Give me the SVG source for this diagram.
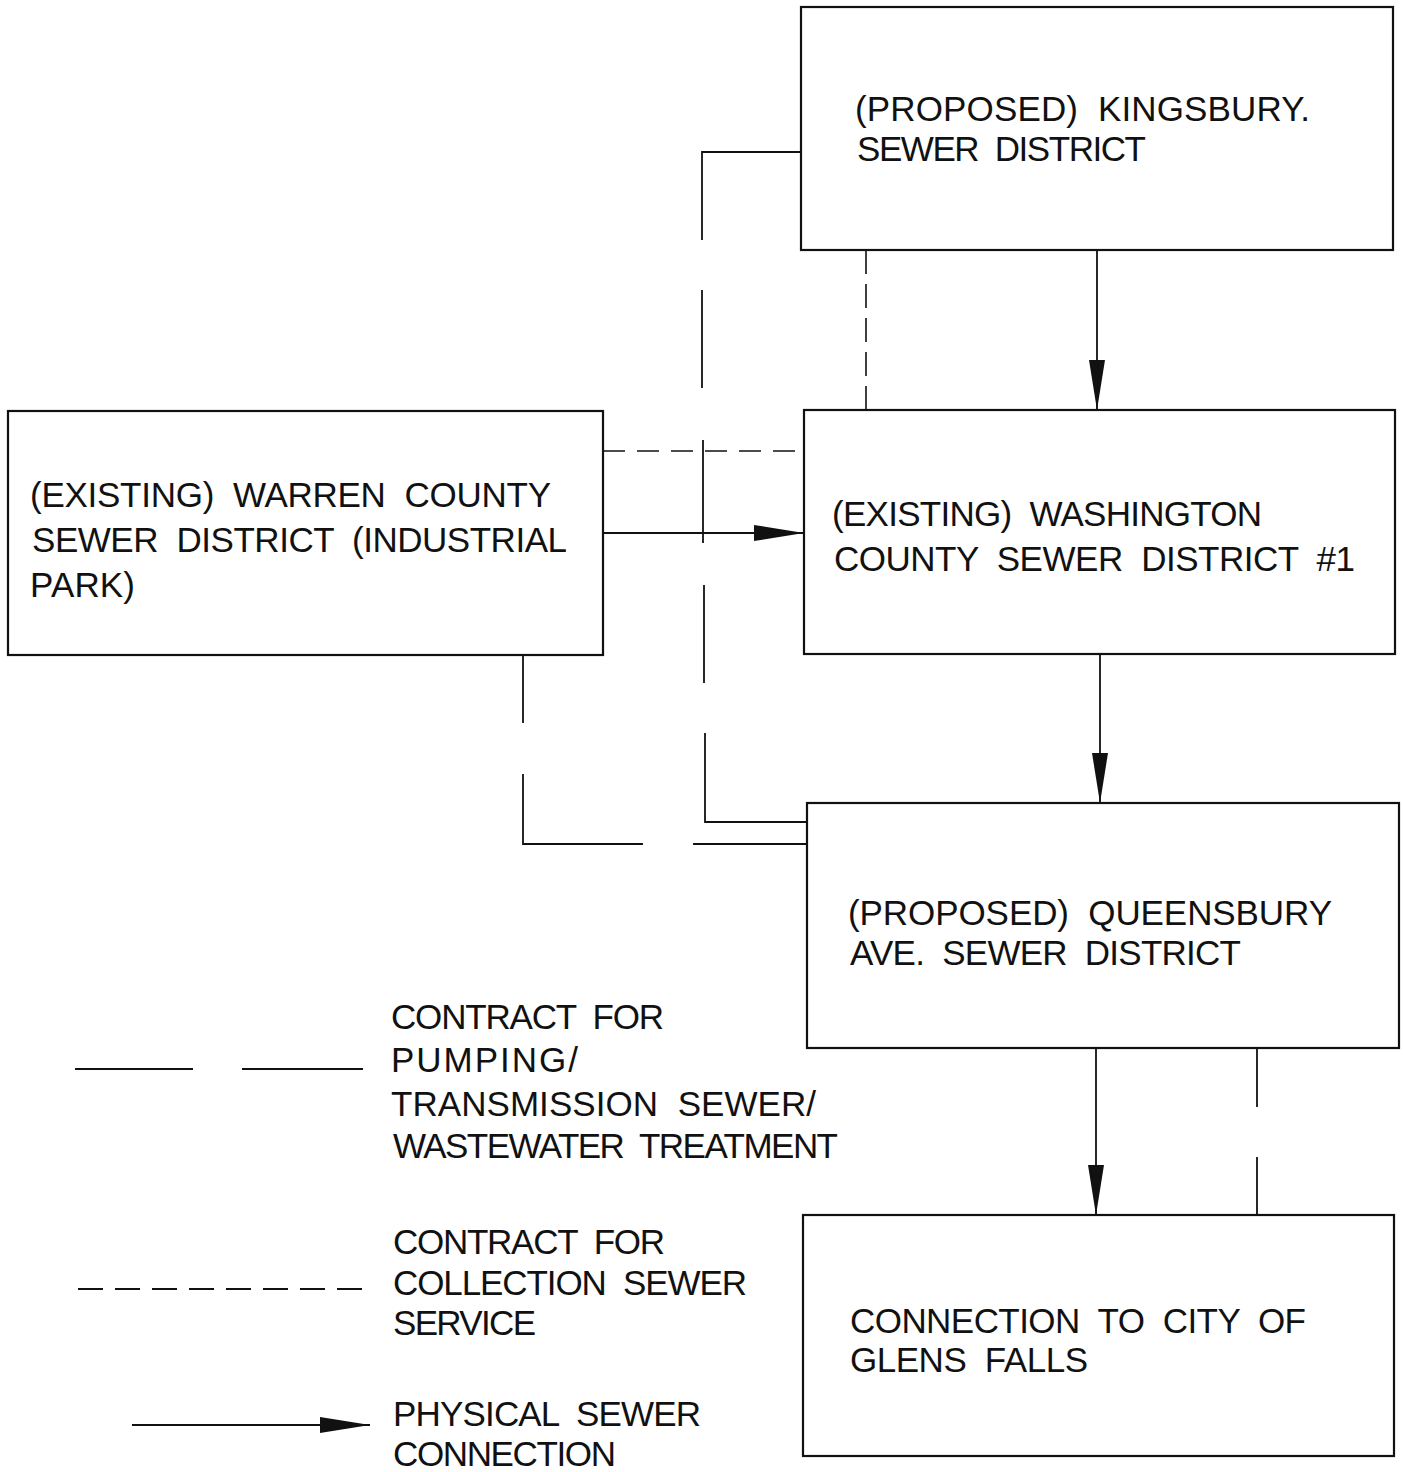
<svg xmlns="http://www.w3.org/2000/svg" width="1403" height="1472" viewBox="0 0 1403 1472">
<style>
.box{fill:none;stroke:#111;stroke-width:2.2}
.ln{fill:none;stroke:#111;stroke-width:1.8}
.sd{fill:none;stroke:#111;stroke-width:1.6;stroke-dasharray:24 10}
.sd2{fill:none;stroke:#111;stroke-width:1.6;stroke-dasharray:22 12}
.t{font-family:"Liberation Sans",Arial,sans-serif;font-size:35px;fill:#111;white-space:pre}
</style>
<defs>
<marker id="ah" markerUnits="userSpaceOnUse" markerWidth="50" markerHeight="16" refX="50" refY="8" orient="auto">
<path d="M0,0 L50,8 L0,16 Z" fill="#111"/>
</marker>
</defs>
<rect width="1403" height="1472" fill="#fff"/>

<g id="connectors">
<path class="ln" d="M1097,250 V410" marker-end="url(#ah)"/>
<path class="ln" d="M1100,654 V803" marker-end="url(#ah)"/>
<path class="ln" d="M1096,1048 V1215" marker-end="url(#ah)"/>
<path class="ln" d="M603,533 H804" marker-end="url(#ah)"/>
<path class="ln" d="M801,152 H702 V240 M702,290 V388 M703,440 V543 M704,585 V683 M705,733 V822 H807"/>
<path class="ln" d="M523,655 V723 M523,774 V844 H643 M693,844 H807"/>
<path class="ln" d="M1257,1048 V1107 M1257,1157 V1215"/>
<path class="sd" d="M866,250 V410"/>
<path class="sd2" d="M603,451 H804"/>
</g>

<g id="kingsbury">
<rect class="box" x="801" y="7" width="592" height="243"/>
<text class="t" x="855" y="121" textLength="455" lengthAdjust="spacing">(PROPOSED)  KINGSBURY.</text>
<text class="t" x="857" y="161" textLength="289" lengthAdjust="spacing">SEWER  DISTRICT</text>
</g>

<g id="warren">
<rect class="box" x="8" y="411" width="595" height="244"/>
<text class="t" x="30" y="507" textLength="521" lengthAdjust="spacing">(EXISTING)  WARREN  COUNTY</text>
<text class="t" x="32" y="552" textLength="535" lengthAdjust="spacing">SEWER  DISTRICT  (INDUSTRIAL</text>
<text class="t" x="30" y="597" textLength="105" lengthAdjust="spacing">PARK)</text>
</g>

<g id="washington">
<rect class="box" x="804" y="410" width="591" height="244"/>
<text class="t" x="832" y="526" textLength="430" lengthAdjust="spacing">(EXISTING)  WASHINGTON</text>
<text class="t" x="834" y="571" textLength="521" lengthAdjust="spacing">COUNTY  SEWER  DISTRICT  #1</text>
</g>

<g id="queensbury">
<rect class="box" x="807" y="803" width="592" height="245"/>
<text class="t" x="848" y="925" textLength="484" lengthAdjust="spacing">(PROPOSED)  QUEENSBURY</text>
<text class="t" x="850" y="965" textLength="391" lengthAdjust="spacing">AVE.  SEWER  DISTRICT</text>
</g>

<g id="glensfalls">
<rect class="box" x="803" y="1215" width="591" height="241"/>
<text class="t" x="850" y="1333" textLength="456" lengthAdjust="spacing">CONNECTION  TO  CITY  OF</text>
<text class="t" x="850" y="1372" textLength="238" lengthAdjust="spacing">GLENS  FALLS</text>
</g>

<g id="legend">
<path class="ln" d="M75,1069 H193 M242,1069 H363"/>
<path class="ln" style="stroke-dasharray:25 12" d="M78,1289 H362"/>
<path class="ln" d="M132,1425 H370" marker-end="url(#ah)"/>
<text class="t" x="391" y="1029" textLength="273" lengthAdjust="spacing">CONTRACT  FOR</text>
<text class="t" x="391" y="1072" textLength="187" lengthAdjust="spacing">PUMPING/</text>
<text class="t" x="391" y="1116" textLength="425" lengthAdjust="spacing">TRANSMISSION  SEWER/</text>
<text class="t" x="393" y="1158" textLength="445" lengthAdjust="spacing">WASTEWATER  TREATMENT</text>
<text class="t" x="393" y="1254" textLength="272" lengthAdjust="spacing">CONTRACT  FOR</text>
<text class="t" x="393" y="1295" textLength="354" lengthAdjust="spacing">COLLECTION  SEWER</text>
<text class="t" x="393" y="1335" textLength="143" lengthAdjust="spacing">SERVICE</text>
<text class="t" x="393" y="1426" textLength="308" lengthAdjust="spacing">PHYSICAL  SEWER</text>
<text class="t" x="393" y="1466" textLength="223" lengthAdjust="spacing">CONNECTION</text>
</g>
</svg>
